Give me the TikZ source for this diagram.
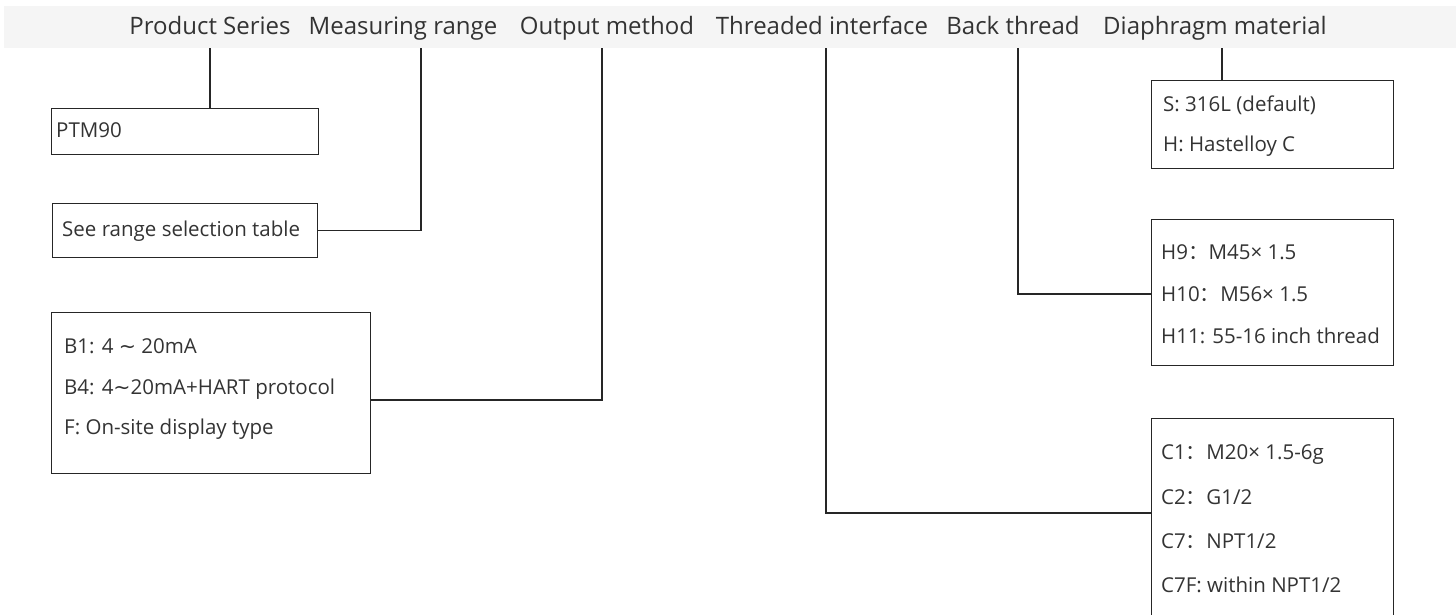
\documentclass[tikz,border=0pt]{standalone}
\usepackage{fontspec}
\setmainfont{Open Sans}
\newfontfamily\cjk{Noto Sans CJK SC}
\newfontfamily\sym{DejaVu Sans}
\newcommand{\fc}{{\cjk ：}}
\newcommand{\tl}{{\sym ∼}}
\begin{document}
\begin{tikzpicture}[x=1pt,y=-1pt,
  box/.style={draw=black!85,line width=1.1pt,anchor=north west,inner sep=0pt},
  txt/.style={anchor=mid west,inner sep=0pt,text=black!80,font=\fontsize{20.5}{24}\selectfont},
  hdr/.style={anchor=mid,inner sep=0pt,text=black!80,font=\fontsize{24}{28}\selectfont},
  wire/.style={draw=black!85,line width=1.1pt}]
\useasboundingbox (0,0) rectangle (1456,614);
\clip (0,0) rectangle (1456,614);
% header band
\node[fill=black!4,anchor=north west,minimum width=1452pt,minimum height=42pt,inner sep=0pt] (band) at (4,6) {};
\node[hdr] (h1) at (210,32) {Product Series};
\node[hdr] (h2) at (403,32) {Measuring range};
\node[hdr] (h3) at (607,32) {Output method};
\node[hdr] (h4) at (822,32) {Threaded interface};
\node[hdr] (h5) at (1013,32) {Back thread};
\node[hdr] (h6) at (1215,32) {Diaphragm material};
\coordinate (p1) at (210,48);
\coordinate (p2) at (421,48);
\coordinate (p3) at (602,48);
\coordinate (p4) at (826,48);
\coordinate (p5) at (1018,48);
\coordinate (p6) at (1222,48);
% boxes
\node[box,minimum width=267pt,minimum height=46pt] (b1) at (51,108) {};
\node[txt] (t1) at (56,135) {PTM90};
\node[box,minimum width=265pt,minimum height=54pt] (b2) at (52,203) {};
\node[txt] (t2) at (62,234) {See range selection table};
\node[box,minimum width=319pt,minimum height=161pt] (b3) at (51,312) {};
\node[txt] (t3a) at (64,351) {B1: 4 \tl{} 20mA};
\node[txt] (t3b) at (64,392) {B4: 4\tl{}20mA+HART protocol};
\node[txt] (t3c) at (64,432) {F: On-site display type};
\node[box,minimum width=242pt,minimum height=88pt] (b4) at (1151,80) {};
\node[txt] (t4a) at (1163,109) {S: 316L (default)};
\node[txt] (t4b) at (1163,149) {H: Hastelloy C};
\node[box,minimum width=242pt,minimum height=146pt] (b5) at (1151,219) {};
\node[txt] (t5a) at (1161,257) {H9\fc{}M45\texttimes{} 1.5};
\node[txt] (t5b) at (1161,299) {H10\fc{}M56\texttimes{} 1.5};
\node[txt] (t5c) at (1161,341) {H11: 55-16 inch thread};
\node[box,minimum width=242pt,minimum height=230pt] (b6) at (1151,418) {};
\node[txt] (t6a) at (1161,457) {C1\fc{}M20\texttimes{} 1.5-6g};
\node[txt] (t6b) at (1161,502) {C2\fc{}G1/2};
\node[txt] (t6c) at (1161,546) {C7\fc{}NPT1/2};
\node[txt] (t6d) at (1161,590) {C7F: within NPT1/2};
% connectors
\draw[wire] (p1) -- (b1.north -| p1);
\draw[wire] (b2.east) -| (p2);
\draw[wire] (b3.east |- 0,400) -| (p3);
\draw[wire] (p4) |- (b6.west |- 0,513);
\draw[wire] (p5) |- (b5.west |- 0,294);
\draw[wire] (p6) -- (b4.north -| p6);
\end{tikzpicture}
\end{document}
